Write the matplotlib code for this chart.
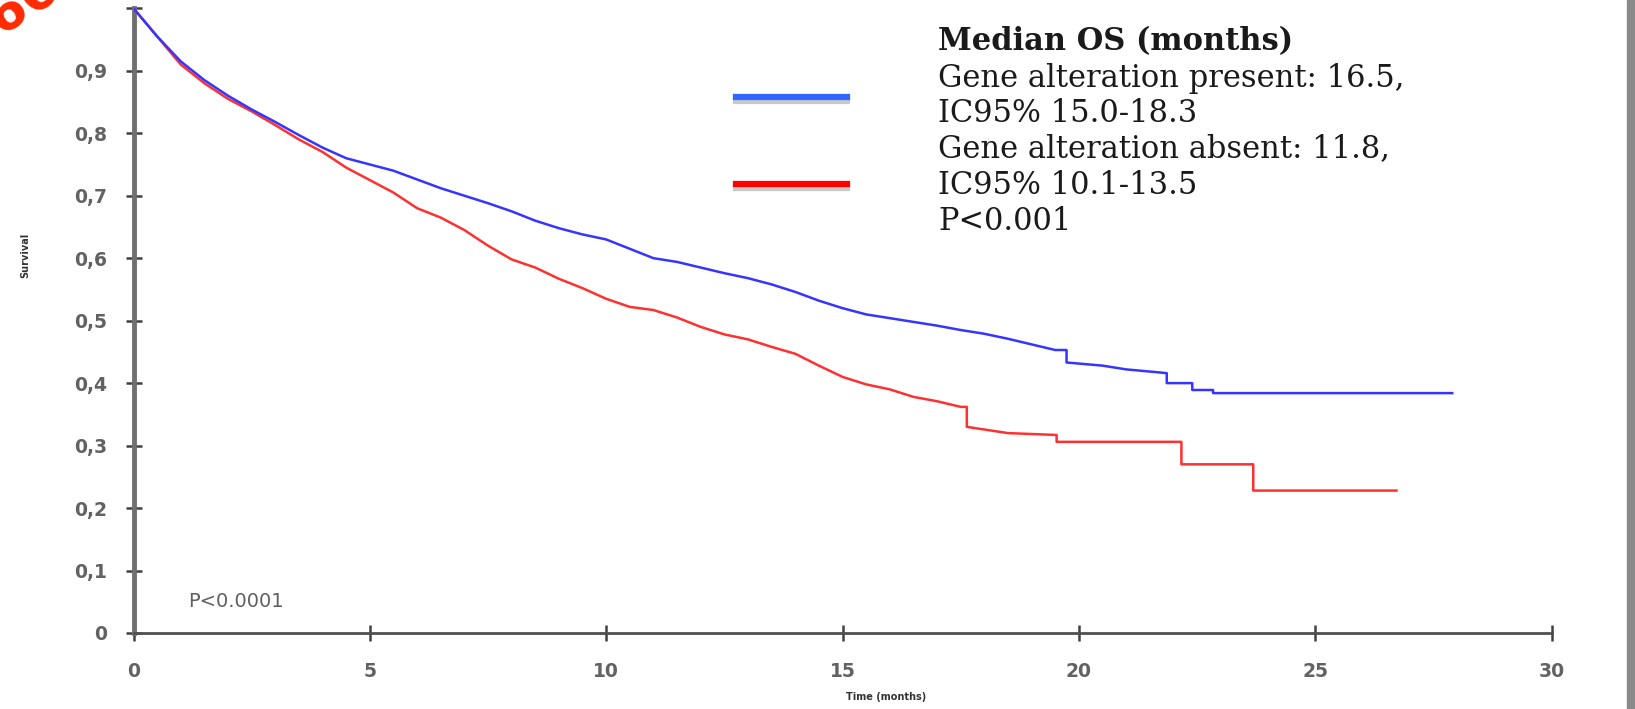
import matplotlib
matplotlib.use("Agg")
import matplotlib.pyplot as plt
from matplotlib.lines import Line2D
from matplotlib.patches import Rectangle

# Kaplan-Meier curves (time in months, survival)
timePresent = [0, 0.5, 1, 1.5, 2, 2.5, 3, 3.5, 4, 4.5, 5, 5.5, 6, 6.5, 7, 7.5, 8, 8.5, 9, 9.5,
               10, 10.5, 11, 11.5, 12, 12.5, 13, 13.5, 14, 14.5, 15, 15.5, 16, 16.5, 17, 17.5,
               18, 18.5, 19, 19.5, 19.74, 19.74, 20.5, 21, 21.86, 21.86, 22.4, 22.4, 22.84,
               22.84, 27.9]
survPresent = [1.0, 0.955, 0.915, 0.885, 0.86, 0.838, 0.818, 0.797, 0.777, 0.76, 0.75, 0.74,
               0.726, 0.712, 0.70, 0.688, 0.675, 0.66, 0.648, 0.638, 0.63, 0.615, 0.60, 0.594,
               0.585, 0.576, 0.568, 0.558, 0.546, 0.532, 0.52, 0.51, 0.504, 0.498, 0.492, 0.485,
               0.479, 0.471, 0.462, 0.453, 0.453, 0.433, 0.428, 0.422, 0.416, 0.40, 0.40, 0.389,
               0.389, 0.384, 0.384]

timeAbsent = [0, 0.5, 1, 1.5, 2, 2.5, 3, 3.5, 4, 4.5, 5, 5.5, 6, 6.5, 7, 7.5, 8, 8.5, 9, 9.5,
              10, 10.5, 11, 11.5, 12, 12.5, 13, 13.5, 14, 14.5, 15, 15.5, 16, 16.5, 17, 17.5,
              17.63, 17.63, 18.5, 19.53, 19.53, 22.17, 22.17, 23.69, 23.69, 26.72]
survAbsent = [1.0, 0.955, 0.91, 0.88, 0.855, 0.835, 0.813, 0.79, 0.77, 0.745, 0.725, 0.705,
              0.68, 0.665, 0.645, 0.62, 0.598, 0.585, 0.567, 0.552, 0.535, 0.522, 0.517, 0.505,
              0.49, 0.478, 0.47, 0.458, 0.447, 0.428, 0.41, 0.398, 0.39, 0.378, 0.371, 0.362,
              0.362, 0.33, 0.32, 0.317, 0.306, 0.306, 0.27, 0.27, 0.228, 0.228]

xTicks = [0, 5, 10, 15, 20, 25, 30]
yTicks = [0, 0.1, 0.2, 0.3, 0.4, 0.5, 0.6, 0.7, 0.8, 0.9, 1.0]
yTickLabels = ["0", "0,1", "0,2", "0,3", "0,4", "0,5", "0,6", "0,7", "0,8", "0,9", ""]

legendLines = ["Median OS (months)",
               "Gene alteration present: 16.5,",
               "IC95% 15.0-18.3",
               "Gene alteration absent: 11.8,",
               "IC95% 10.1-13.5",
               "P<0.001"]

W, H = 1635, 709
fig = plt.figure(figsize=(W / 100, H / 100), dpi=100)
ax = fig.add_axes([133.5 / W, 1 - 633 / H, (1551.5 - 133.5) / W, (633 - 8.3) / H])

ax.plot(timeAbsent, survAbsent, color="#ff3030", lw=1.8, zorder=3)
ax.plot(timePresent, survPresent, color="#3535ff", lw=1.8, zorder=4)

ax.set_xlim(0, 30)
ax.set_ylim(0, 1.0)
ax.set_xticks(xTicks)
ax.set_yticks(yTicks)
ax.set_yticklabels(yTickLabels)
for side in ["top", "right"]:
    ax.spines[side].set_visible(False)
ax.spines["left"].set_linewidth(3.5)
ax.spines["left"].set_color("#707070")
ax.spines["bottom"].set_linewidth(2)
ax.spines["bottom"].set_color("#505050")
ax.tick_params(axis="both", direction="inout", length=12, width=1.8, color="#404040",
               labelsize=13.5, labelcolor="#626262")
ax.tick_params(axis="y", pad=13)
ax.tick_params(axis="x", pad=15)
for lab in ax.get_xticklabels() + ax.get_yticklabels():
    lab.set_fontfamily("DejaVu Sans")
    lab.set_fontweight("bold")
ax.patch.set_alpha(0)

ax.text(1.15, 0.051, "P<0.0001", fontsize=14, color="#5f5f5f", family="DejaVu Sans",
        va="center", ha="left")

fig.text(886 / W, 1 - 697 / H, "Time (months)", fontsize=7, fontweight="bold",
         color="#333333", ha="center", va="center")
fig.text(25 / W, 1 - 255 / H, "Survival", fontsize=7, fontweight="bold", rotation=90,
         color="#333333", ha="center", va="center")

# legend swatches with a grey shadow
for yPix, col in [(97, "#3366ff"), (183.5, "#ff0000")]:
    fig.add_artist(Line2D([736 / W, 847 / W], [1 - (yPix + 4) / H] * 2, color="#c8c8c8",
                          lw=4.5, transform=fig.transFigure))
    fig.add_artist(Line2D([736 / W, 847 / W], [1 - yPix / H] * 2, color=col,
                          lw=4.5, transform=fig.transFigure))

legendY = [42, 78, 113, 149, 186, 222]
for i, (txt, yPix) in enumerate(zip(legendLines, legendY)):
    fig.text(938 / W, 1 - yPix / H, txt, fontsize=22, family="DejaVu Serif",
             fontweight="bold" if i == 0 else "normal", color="#1a1a1a",
             ha="left", va="center")

# grey bar on the right edge
fig.patches.append(Rectangle((1627 / W, 0), 8 / W, 1, transform=fig.transFigure,
                             color="#8a8a8a", zorder=10))

# red stamp in the corner, mostly cut off as in the source
fig.text(-31 / W, 1 - 55 / H, "360", fontsize=39, fontweight="bold", color="#ff2a00",
         rotation=33, rotation_mode="anchor", ha="left", va="baseline")

fig.savefig("out.png", dpi=100)
